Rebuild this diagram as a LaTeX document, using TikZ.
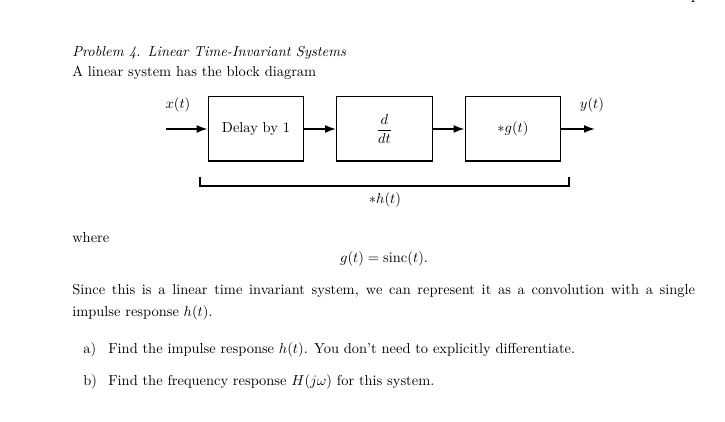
\documentclass[tikz,border=0pt]{standalone}
\usetikzlibrary{arrows.meta}
\begin{document}
\begin{tikzpicture}[x=0.692pt, y=-0.692pt,
    block/.style={draw, line width=0.7pt, minimum width=66.4pt, minimum height=44.3pt, inner sep=0pt},
    sig/.style={line width=1.1pt, -{Latex[length=7.5pt, width=5.4pt]}},
    txt/.style={anchor=base west, inner sep=0pt}]
    \useasboundingbox (0,0) rectangle (725,422);

    % page number, cut off at the top
    \node[anchor=base, inner sep=0pt] (page) at (692,3) {4};

    \node[txt] (title) at (72,57) {\textit{Problem 4. Linear Time-Invariant Systems}};
    \node[txt] (intro) at (72,77) {A linear system has the block diagram};

    % the three blocks
    \node[block] (delay) at (256,129) {Delay by 1};
    \node[block] (deriv) at (384.5,129) {$\displaystyle\frac{d}{dt}$};
    \node[block] (conv) at (513,129) {$*g(t)$};
    \coordinate (in) at (166,129);
    \coordinate (out) at (595,129);
    \node (xin) at (178,105) {$x(t)$};
    \node (yout) at (592,105) {$y(t)$};

    \foreach \a/\b in {in/delay, delay/deriv, deriv/conv, conv/out}
        \draw[sig] (\a) -- (\b);

    % bracket under the chain
    \coordinate (bl) at (200,177);
    \coordinate (br) at (569,177);
    \draw[line width=1.1pt] (bl) -- ++(0,9) -| (br);
    \node (hlabel) at (385,200) {$*h(t)$};

    \node[txt] (where) at (72,243) {where};
    \node[anchor=base, inner sep=0pt] (eq) at (384,263) {$g(t) = \mathrm{sinc}(t).$};
    \node[txt] (since) at (72,295) {\makebox[431pt][s]{Since this is a linear time invariant system, we can represent it as a convolution with a single}};
    \node[txt] (since2) at (72,317) {impulse response $h(t)$.};

    \node[txt] (qa) at (83,354) {a)};
    \node[txt] (qatext) at (108,354) {Find the impulse response $h(t)$. You don't need to explicitly differentiate.};
    \node[txt] (qb) at (83,386) {b)};
    \node[txt] (qbtext) at (108,386) {Find the frequency response $H(j\omega)$ for this system.};
\end{tikzpicture}
\end{document}
